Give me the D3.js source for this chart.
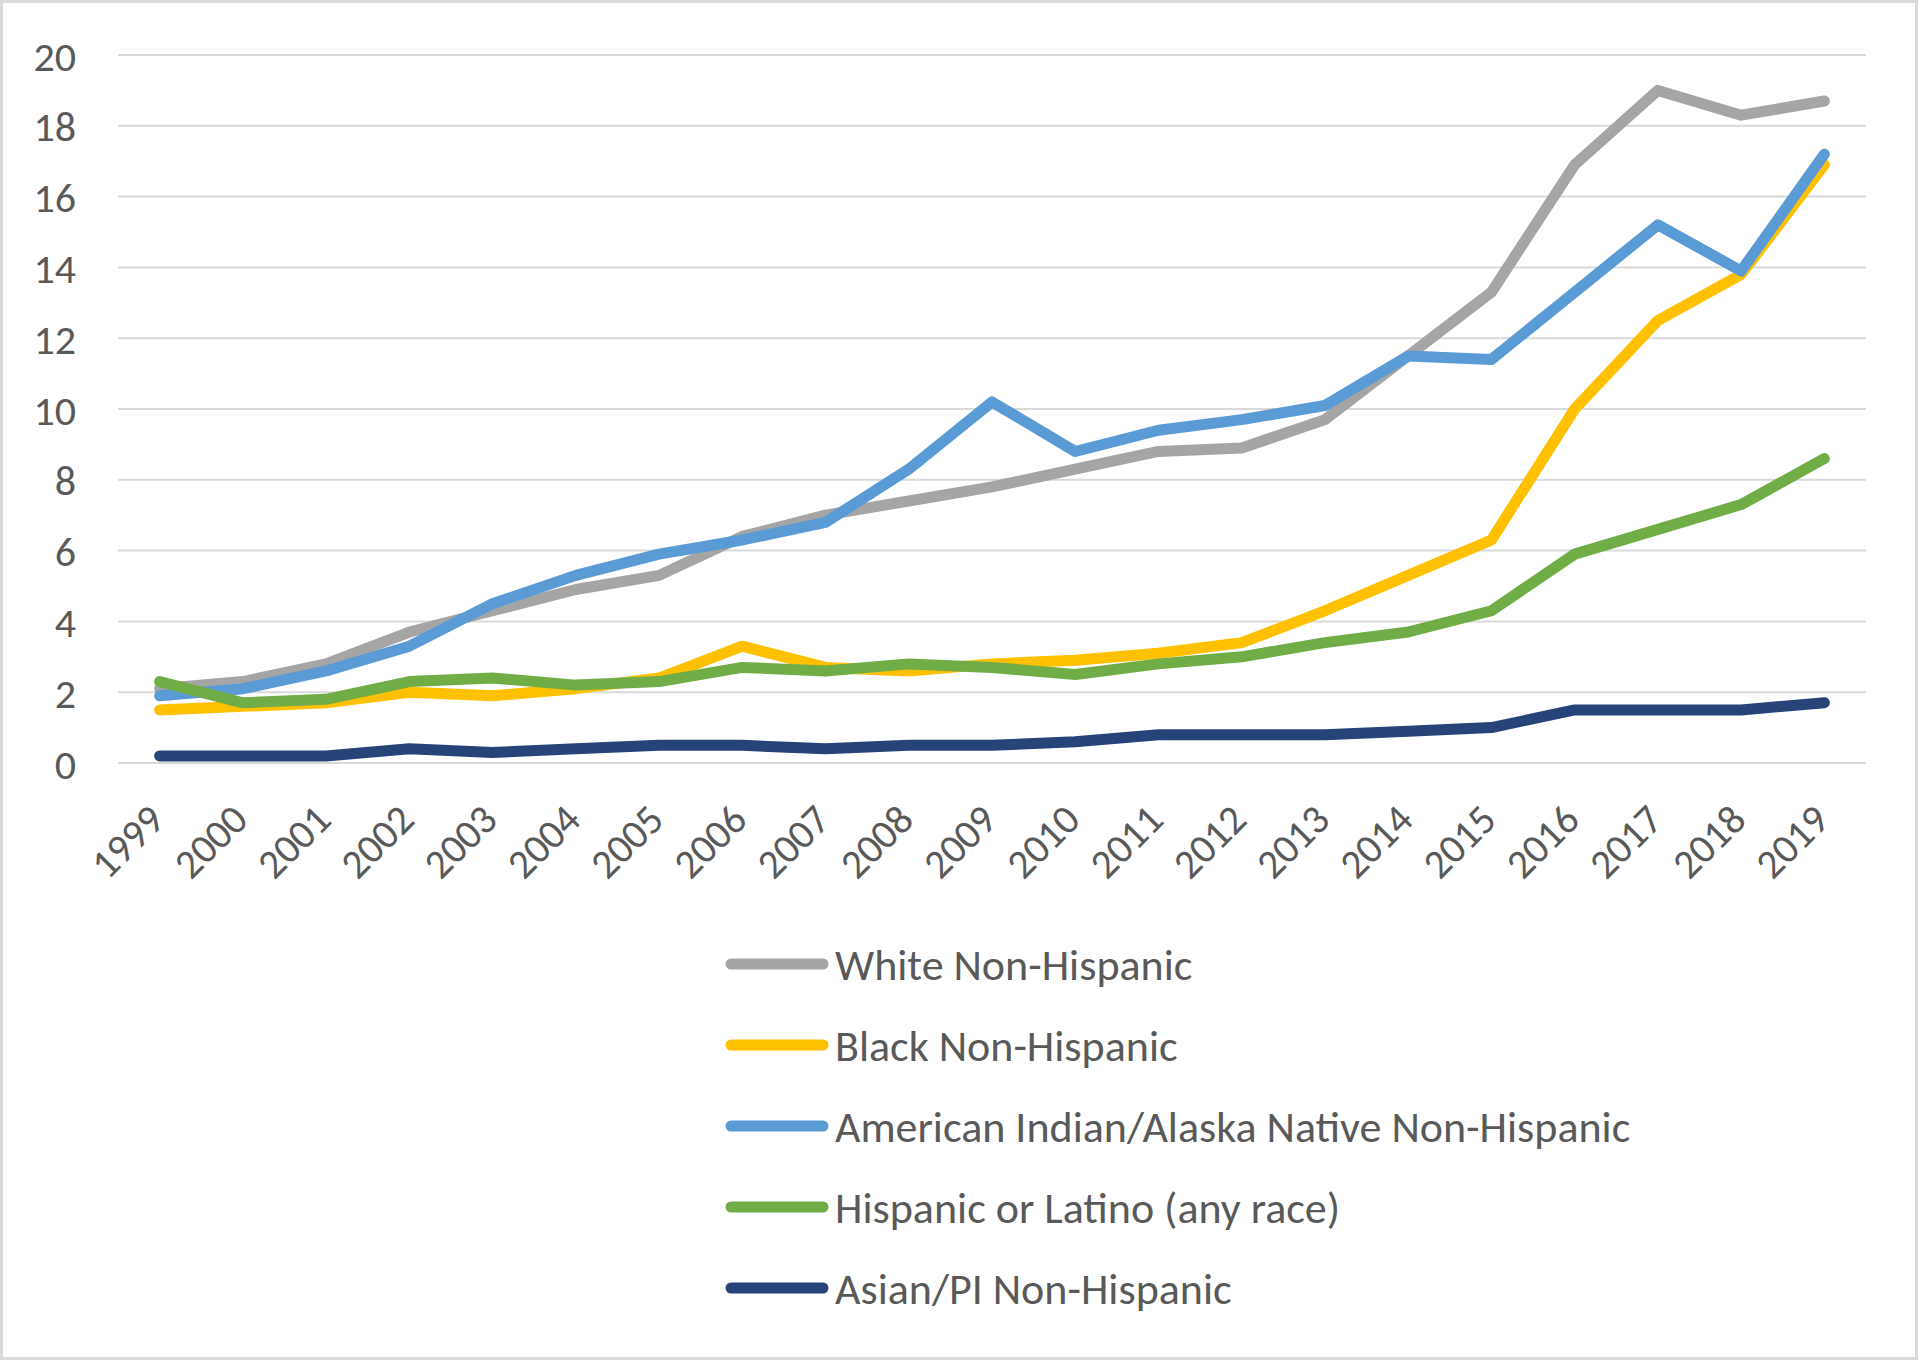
<!DOCTYPE html>
<html>
<head>
<meta charset="utf-8">
<script src="https://cdn.jsdelivr.net/npm/d3@7"></script>
<style>
  html, body { margin: 0; padding: 0; background: #fff; }
  svg { display: block; }
  text { font-family: Carlito, Calibri, Lato, sans-serif; fill: #595959; }
</style>
</head>
<body>
<svg id="chart" width="1920" height="1362"></svg>
<script>
const years = ["1999","2000","2001","2002","2003","2004","2005","2006","2007","2008","2009",
               "2010","2011","2012","2013","2014","2015","2016","2017","2018","2019"];
const yTicks = [0, 2, 4, 6, 8, 10, 12, 14, 16, 18, 20];

const seriesNames = ["White Non-Hispanic", "Black Non-Hispanic",
  "American Indian/Alaska Native Non-Hispanic", "Hispanic or Latino (any race)", "Asian/PI Non-Hispanic"];
const seriesColors = ["#a5a5a5", "#ffc000", "#5b9bd5", "#70ad47", "#264478"];

const white    = [2.1, 2.3, 2.8, 3.7, 4.3, 4.9, 5.3, 6.4, 7.0, 7.4, 7.8, 8.3, 8.8, 8.9, 9.7, 11.5, 13.3, 16.9, 19.0, 18.3, 18.7];
const black    = [1.5, 1.6, 1.7, 2.0, 1.9, 2.1, 2.4, 3.3, 2.7, 2.6, 2.8, 2.9, 3.1, 3.4, 4.3, 5.3, 6.3, 10.0, 12.5, 13.8, 16.9];
const aian     = [1.9, 2.1, 2.6, 3.3, 4.5, 5.3, 5.9, 6.3, 6.8, 8.3, 10.2, 8.8, 9.4, 9.7, 10.1, 11.5, 11.4, 13.3, 15.2, 13.9, 17.2];
const hispanic = [2.3, 1.7, 1.8, 2.3, 2.4, 2.2, 2.3, 2.7, 2.6, 2.8, 2.7, 2.5, 2.8, 3.0, 3.4, 3.7, 4.3, 5.9, 6.6, 7.3, 8.6];
const asian    = [0.2, 0.2, 0.2, 0.4, 0.3, 0.4, 0.5, 0.5, 0.4, 0.5, 0.5, 0.6, 0.8, 0.8, 0.8, 0.9, 1.0, 1.5, 1.5, 1.5, 1.7];

const seriesValues = [white, black, aian, hispanic, asian];

const svg = d3.select("#chart");
const W = 1920, H = 1362;
const plot = { left: 118, right: 1866, top: 55, bottom: 763 };
const FONT = "Carlito, Calibri, Lato, sans-serif";

// outer border
svg.append("rect")
  .attr("x", 1.5).attr("y", 1.5).attr("width", W - 5).attr("height", H - 5)
  .attr("fill", "#fff").attr("stroke", "#d9d9d9").attr("stroke-width", 3);

const x = d3.scaleBand().domain(years).range([plot.left, plot.right]);
const y = d3.scaleLinear().domain([0, 20]).range([plot.bottom, plot.top]);
const cx = d => x(d) + x.bandwidth() / 2;

// gridlines
svg.append("g").selectAll("line").data(yTicks).join("line")
  .attr("x1", plot.left).attr("x2", plot.right)
  .attr("y1", d => y(d)).attr("y2", d => y(d))
  .attr("stroke", "#d9d9d9").attr("stroke-width", 2);

// y axis labels
const yAxis = d3.axisLeft(y).tickValues(yTicks).tickSize(0).tickPadding(0).tickFormat(d3.format("d"));
const gy = svg.append("g").attr("transform", "translate(76,0)").call(yAxis);
gy.select(".domain").remove();
gy.selectAll("text").attr("font-size", 42).attr("fill", "#595959")
  .style("font-family", FONT).attr("dy", "0.36em");

// x axis labels
const xAxis = d3.axisBottom(x).tickSize(0).tickPadding(0);
const gx = svg.append("g").call(xAxis);
gx.select(".domain").remove();
gx.selectAll(".tick").attr("transform", d => `translate(${cx(d) + 7},822)`);
gx.selectAll("text")
  .attr("y", 0).attr("dy", 0).attr("x", 0)
  .attr("text-anchor", "end")
  .attr("transform", "rotate(-45)")
  .attr("font-size", 41).attr("fill", "#595959")
  .style("font-family", FONT);

// lines
const line = d3.line().x((d, i) => cx(years[i])).y(d => y(d));
svg.append("g").selectAll("path").data(seriesValues).join("path")
  .attr("d", d => line(d))
  .attr("fill", "none")
  .attr("stroke", (d, i) => seriesColors[i])
  .attr("stroke-width", 11)
  .attr("stroke-linecap", "round")
  .attr("stroke-linejoin", "round");

// legend
const legendRows = [964, 1045, 1126, 1207, 1288];
const lg = svg.append("g");
const items = lg.selectAll("g").data(seriesNames).join("g")
  .attr("transform", (d, i) => `translate(0,${legendRows[i]})`);
items.append("line")
  .attr("x1", 731).attr("x2", 823).attr("y1", 0).attr("y2", 0)
  .attr("stroke", (d, i) => seriesColors[i])
  .attr("stroke-width", 11).attr("stroke-linecap", "round");
items.append("text")
  .attr("x", 835).attr("y", 0).attr("dy", "0.36em")
  .attr("font-size", 44)
  .style("font-family", FONT)
  .text(d => d);
</script>
</body>
</html>
